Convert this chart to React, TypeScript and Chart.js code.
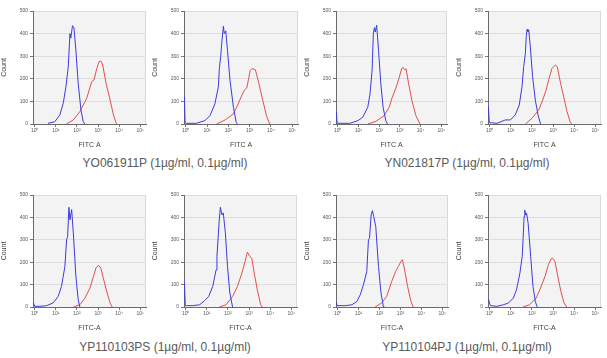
import React, { useEffect, useRef } from "react";
import { Chart, registerables } from "chart.js";

Chart.register(...registerables);

// ---- data: x = decade position on FITC-A log axis (0 => 10^0), y = count ----
const xTickValues = [0, 1, 2, 3, 4, 5];
const xTickLabels = ["10⁰", "10¹", "10²", "10³", "10⁴", "10⁵"];
const yTickValues = [0, 100, 200, 300, 400, 500];

const captions = [
  "YO061911P (1µg/ml, 0.1µg/ml)",
  "YN021817P (1µg/ml, 0.1µg/ml)",
  "YP110103PS (1µg/ml, 0.1µg/ml)",
  "YP110104PJ (1µg/ml, 0.1µg/ml)",
];

const p1Blue = [[0.63, 3], [0.95, 10], [1.19, 40], [1.35, 91], [1.48, 165], [1.59, 254], [1.67, 400], [1.71, 380], [1.79, 435], [1.86, 425], [1.95, 327], [2.06, 180], [2.19, 62], [2.3, 10], [2.38, 0]];
const p1Red = [[1.5, 0], [1.83, 18], [2.14, 55], [2.46, 113], [2.7, 187], [2.81, 195], [2.94, 246], [3.05, 276], [3.14, 278], [3.22, 261], [3.38, 180], [3.57, 106], [3.73, 40], [3.86, 3], [3.9, 0]];

const p2Blue = [[-0.06, 120], [-0.03, 5], [0.03, 3], [0.5, 3], [0.9, 15], [1.14, 37], [1.37, 89], [1.53, 163], [1.58, 245], [1.64, 297], [1.69, 356], [1.77, 433], [1.81, 400], [1.88, 412], [1.96, 326], [2.08, 193], [2.24, 74], [2.37, 7], [2.43, 0]];
const p2Red = [[1.45, 0], [1.85, 18], [2.24, 45], [2.43, 82], [2.63, 126], [2.76, 151], [2.87, 160], [2.95, 200], [3.03, 237], [3.11, 245], [3.27, 240], [3.42, 185], [3.58, 119], [3.79, 37], [3.94, 0]];

const p3Blue = [[-0.06, 52], [-0.03, 4], [0.15, 3], [0.58, 3], [0.98, 15], [1.21, 30], [1.45, 74], [1.56, 133], [1.66, 237], [1.72, 400], [1.77, 426], [1.81, 407], [1.88, 437], [1.97, 326], [2.08, 178], [2.19, 74], [2.32, 15], [2.4, 0]];
const p3Red = [[1.45, 0], [1.85, 12], [2.24, 37], [2.48, 74], [2.63, 118], [2.79, 155], [2.95, 200], [3.08, 244], [3.14, 251], [3.23, 240], [3.3, 244], [3.42, 178], [3.58, 104], [3.77, 37], [3.97, 0]];

const p4Blue = [[-0.06, 78], [-0.02, 6], [0.1, 5], [0.35, 3], [0.74, 18], [0.98, 18], [1.21, 40], [1.4, 84], [1.53, 165], [1.61, 254], [1.69, 313], [1.73, 386], [1.77, 419], [1.81, 409], [1.85, 416], [1.92, 345], [2.03, 210], [2.16, 106], [2.29, 40], [2.41, 0]];
const p4Red = [[1.69, 0], [2.0, 25], [2.32, 62], [2.51, 106], [2.67, 150], [2.79, 195], [2.95, 246], [3.11, 261], [3.2, 254], [3.34, 187], [3.5, 121], [3.66, 55], [3.82, 6], [3.9, 0]];

const p5Blue = [[-0.06, 18], [0.0, 3], [0.24, 3], [0.56, 6], [0.87, 18], [1.11, 47], [1.27, 92], [1.43, 181], [1.51, 300], [1.56, 315], [1.62, 445], [1.67, 389], [1.75, 435], [1.83, 330], [1.95, 137], [2.06, 33], [2.14, 0]];
const p5Red = [[1.83, 0], [2.14, 10], [2.38, 40], [2.62, 85], [2.78, 136], [2.9, 174], [3.02, 187], [3.13, 174], [3.25, 129], [3.41, 70], [3.57, 18], [3.67, 0]];

const p6Blue = [[-0.06, 110], [-0.02, 6], [0.03, 6], [0.34, 6], [0.66, 10], [0.89, 28], [1.09, 47], [1.28, 92], [1.44, 166], [1.48, 226], [1.55, 330], [1.59, 389], [1.64, 445], [1.72, 411], [1.78, 420], [1.88, 330], [1.98, 181], [2.09, 62], [2.22, 0]];
const p6Red = [[1.59, 0], [1.91, 10], [2.22, 47], [2.45, 92], [2.66, 151], [2.81, 203], [2.92, 245], [3.03, 226], [3.13, 218], [3.23, 159], [3.39, 77], [3.55, 10], [3.63, 0]];

const p7Blue = [[-0.06, 20], [-0.03, 6], [0.36, 6], [0.68, 10], [0.92, 25], [1.08, 55], [1.23, 99], [1.39, 159], [1.47, 300], [1.52, 307], [1.6, 411], [1.66, 430], [1.72, 404], [1.82, 359], [1.95, 181], [2.07, 62], [2.18, 3], [2.2, 0]];
const p7Red = [[1.79, 0], [2.1, 18], [2.34, 47], [2.58, 114], [2.77, 159], [2.9, 181], [3.02, 203], [3.09, 211], [3.18, 174], [3.34, 92], [3.5, 25], [3.61, 0]];

const p8Blue = [[-0.06, 35], [0.03, 6], [0.34, 3], [0.65, 10], [0.89, 18], [1.12, 40], [1.27, 77], [1.43, 151], [1.54, 226], [1.58, 300], [1.63, 404], [1.66, 432], [1.71, 411], [1.75, 418], [1.82, 374], [1.94, 226], [2.05, 92], [2.16, 25], [2.25, 0]];
const p8Red = [[1.58, 0], [1.89, 10], [2.2, 40], [2.41, 85], [2.62, 137], [2.78, 189], [2.9, 214], [2.98, 218], [3.09, 203], [3.21, 144], [3.37, 70], [3.52, 18], [3.65, 0]];

// ---- layout (plot area positions on the page) ----
const panels = [
  { left: 33, right: 146, top: 11, bottom: 124, blue: p1Blue, red: p1Red, xTitle: "FITC A" },
  { left: 184, right: 298, top: 11, bottom: 124, blue: p2Blue, red: p2Red, xTitle: "FITC A" },
  { left: 336, right: 447, top: 11, bottom: 124, blue: p3Blue, red: p3Red, xTitle: "FITC A" },
  { left: 488, right: 601, top: 11, bottom: 124, blue: p4Blue, red: p4Red, xTitle: "FITC A" },
  { left: 33, right: 146, top: 195, bottom: 307, blue: p5Blue, red: p5Red, xTitle: "FITC-A" },
  { left: 184, right: 297, top: 195, bottom: 307, blue: p6Blue, red: p6Red, xTitle: "FITC-A" },
  { left: 336, right: 448, top: 195, bottom: 307, blue: p7Blue, red: p7Red, xTitle: "FITC-A" },
  { left: 488, right: 601, top: 195, bottom: 307, blue: p8Blue, red: p8Red, xTitle: "FITC-A" },
];

const captionPos = [
  { cx: 165, cy: 163 },
  { cx: 467, cy: 163 },
  { cx: 165, cy: 347 },
  { cx: 467, cy: 347 },
];

const Y_AXIS_W = 33;
const X_AXIS_H = 26;
const PAD_TOP = 11;
const PAD_RIGHT = 4;

const bgPlugin = {
  id: "plotBg",
  beforeDraw(chart: any) {
    const { ctx, chartArea } = chart;
    if (!chartArea) return;
    ctx.save();
    ctx.fillStyle = "#f3f3f3";
    ctx.fillRect(chartArea.left, chartArea.top, chartArea.right - chartArea.left, chartArea.bottom - chartArea.top);
    ctx.strokeStyle = "#d8d8d8";
    ctx.lineWidth = 1;
    ctx.beginPath();
    ctx.moveTo(chartArea.left, chartArea.top + 0.5);
    ctx.lineTo(chartArea.right - 0.5, chartArea.top + 0.5);
    ctx.lineTo(chartArea.right - 0.5, chartArea.bottom);
    ctx.stroke();
    ctx.restore();
  },
};

const toPts = (arr: number[][]) => arr.map(([x, y]) => ({ x, y }));

function Panel({ p }: { p: any }) {
  const ref = useRef<HTMLCanvasElement | null>(null);
  const w = p.right - p.left + Y_AXIS_W + PAD_RIGHT;
  const h = p.bottom - p.top + PAD_TOP + X_AXIS_H;
  useEffect(() => {
    if (!ref.current) return;
    const chart = new Chart(ref.current, {
      type: "line",
      data: {
        datasets: [
          { data: toPts(p.blue), borderColor: "#3b3be0", borderWidth: 1, pointRadius: 0, fill: false, tension: 0 },
          { data: toPts(p.red), borderColor: "#e0504f", borderWidth: 1, pointRadius: 0, fill: false, tension: 0 },
        ],
      },
      options: {
        responsive: false,
        animation: false,
        devicePixelRatio: 1,
        layout: { padding: { top: PAD_TOP, right: PAD_RIGHT, left: 0, bottom: 0 } },
        plugins: { legend: { display: false }, tooltip: { enabled: false } },
        scales: {
          x: {
            type: "linear",
            min: -0.08,
            max: 5.27,
            afterBuildTicks: (s: any) => { s.ticks = xTickValues.map((v) => ({ value: v })); },
            afterFit: (s: any) => { s.height = X_AXIS_H; s.paddingLeft = 0; s.paddingRight = 0; },
            ticks: {
              autoSkip: false,
              maxRotation: 0,
              padding: 1,
              color: "#555",
              font: { size: 5, family: "Liberation Sans" },
              callback: (v: any) => xTickLabels[xTickValues.indexOf(Number(v))] ?? "",
            },
            grid: { drawOnChartArea: false, tickLength: 3, tickColor: "#777", color: "#777" },
            border: { display: true, color: "#6a6a6a", width: 1 },
            title: { display: true, text: p.xTitle, color: "#444", font: { size: 7, family: "Liberation Sans" }, padding: { top: 0, bottom: 1 } },
          },
          y: {
            type: "linear",
            min: 0,
            max: 500,
            afterBuildTicks: (s: any) => { s.ticks = yTickValues.map((v) => ({ value: v })); },
            afterFit: (s: any) => { s.width = Y_AXIS_W; s.paddingTop = 0; s.paddingBottom = 0; },
            ticks: { padding: 2, color: "#555", font: { size: 5, family: "Liberation Sans" } },
            grid: { color: "#dedede", lineWidth: 1, tickLength: 3, tickColor: "#777" },
            border: { display: true, color: "#6a6a6a", width: 1 },
            title: { display: true, text: "Count", color: "#444", font: { size: 7, family: "Liberation Sans" }, padding: { top: 0, bottom: 4 } },
          },
        },
      },
      plugins: [bgPlugin],
    } as any);
    return () => chart.destroy();
  }, []);
  return (
    <canvas
      ref={ref}
      width={w}
      height={h}
      style={{ position: "absolute", left: p.left - Y_AXIS_W, top: p.top - PAD_TOP, width: w, height: h }}
    />
  );
}

export default function App() {
  return (
    <div style={{ position: "fixed", left: 0, top: 0, width: 607, height: 358, background: "#fff", overflow: "hidden" }}>
      {panels.map((p, i) => (
        <Panel key={i} p={p} />
      ))}
      {captions.map((c, i) => (
        <div
          key={"c" + i}
          style={{
            position: "absolute",
            left: captionPos[i].cx - 150,
            top: captionPos[i].cy - 8,
            width: 300,
            height: 16,
            lineHeight: "16px",
            textAlign: "center",
            fontFamily: "Liberation Sans",
            fontSize: 12,
            color: "#5a5a5a",
            whiteSpace: "nowrap",
          }}
        >
          {c}
        </div>
      ))}
    </div>
  );
}
